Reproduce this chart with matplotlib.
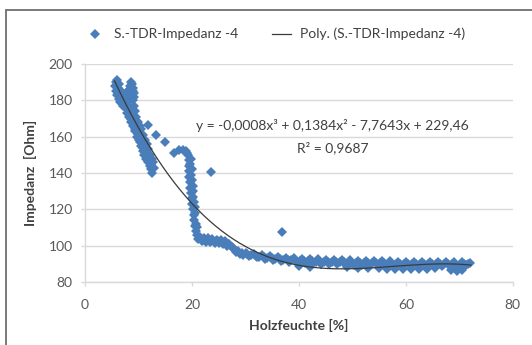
import numpy as np
import matplotlib.pyplot as plt
from matplotlib.patches import Rectangle

plt.rcParams['font.family'] = ['Lato', 'DejaVu Sans']

# --- Messwerte (aus dem Diagramm abgelesen) ---
# obere Gruppe, trockenes Holz
x_top = [5.6, 5.8, 6.0, 5.7, 5.9, 6.2, 6.4, 6.1, 6.6, 6.9, 7.1, 6.8, 7.4, 7.7, 8.0,
         8.2, 8.4, 8.6, 8.8, 9.0, 8.7, 8.9, 9.1, 8.5, 8.3, 7.9, 7.5, 7.2, 9.2, 9.0,
         6.3, 6.6, 7.0, 7.8, 8.1, 8.6]
y_top = [188, 190, 191, 185, 183, 187, 189, 184, 186, 184, 182, 180, 183, 184, 185,
         186, 188, 190, 189, 187, 183, 185, 182, 181, 180, 179, 178, 178, 184, 180,
         181, 179, 177, 181, 182, 185]

# Abfall 180 -> 140 Ohm
x_fall = [7.3, 7.6, 7.9, 8.2, 8.6, 9.0, 9.3, 9.7, 10.0, 10.4, 10.8, 11.1, 11.4, 11.8, 12.1, 12.4, 12.6,
          9.2, 9.4, 9.5, 9.8, 10.2, 10.5, 10.9, 11.2, 11.5, 11.8, 12.2, 12.5, 12.7, 12.8,
          8.4, 8.8, 9.2, 9.6, 10.1, 10.6, 11.0, 11.5, 12.0, 12.4,
          7.8, 8.1, 8.5, 8.9, 9.4, 9.8, 10.3, 10.8, 11.3, 11.7, 12.2]
y_fall = [179, 176, 173, 171, 168, 166, 163, 160, 158, 155, 152, 150, 148, 146, 144, 142, 140,
          177, 174, 171, 168, 166, 164, 161, 158, 156, 153, 150, 148, 146, 143,
          176, 172, 169, 165, 162, 159, 155, 152, 148, 145,
          177.5, 174.5, 170, 167.5, 164, 161.5, 157, 154, 150, 149.5, 146.5]

# vereinzelte Punkte
x_sparse = [11.8, 13.3, 14.9, 16.7, 23.6, 36.8]
y_sparse = [166.4, 161, 157, 151, 140.6, 107.5]

# Plateau und senkrechter Abfall bei ~19 %
x_step = [17.6, 18.3, 18.9, 19.3, 19.4, 19.4, 19.5, 19.5, 19.6, 19.7, 19.8, 19.9, 20.0, 20.1,
          20.3, 20.4, 20.6, 20.8, 21.0, 19.8, 19.9, 20.0, 20.2, 20.3, 20.5, 20.7,
          19.1, 19.7, 19.8, 20.1, 20.2, 20.5, 20.9]
y_step = [152.5, 152.5, 152, 150, 147, 144, 141, 138, 135, 132, 129, 126, 123, 120,
          117, 114, 111, 108, 106, 148, 142, 136, 130, 124, 118, 112,
          151, 145, 139, 133, 127, 121, 110]

# Stufe bei ~103 Ohm
x_shelf = [21.5, 22.2, 23.0, 23.8, 24.6, 25.4, 26.2, 27.0, 21.8, 22.6, 23.4, 24.2, 25.0,
           25.8, 26.6, 27.4, 27.8, 28.3, 28.9, 29.6,
           21.2, 22.0, 22.8, 23.6, 24.4, 25.2, 26.0, 26.8, 27.6, 28.6, 29.3]
y_shelf = [105, 104, 104, 103.5, 103, 103, 102.5, 101, 102.5, 102, 102, 101.5, 101.5,
           101, 100, 99, 98, 96.5, 95.5, 95,
           103.5, 103, 103, 102.5, 102.5, 102, 101.5, 101, 98.5, 97, 96]

# langes Band, nasses Holz
x_wet1 = [30, 31.5, 33, 34.5, 36, 37.5, 39, 40.5, 42, 43.5, 45, 46.5, 48, 49.5, 51, 52.5,
          54, 55.5, 57, 58.5, 60, 61.5, 63, 64.5, 66, 67.5, 69, 70.5, 72]
y_wet1 = [96, 95.3, 94.7, 94.2, 93.8, 93.4, 93.1, 92.8, 92.6, 92.4, 92.2, 92.0, 91.9, 91.8,
          91.7, 91.6, 91.5, 91.4, 91.3, 91.2, 91.2, 91.1, 91.0, 91.0, 90.9, 90.9, 90.8, 90.8, 90.6]
x_wet2 = [30.7, 32.2, 33.7, 35.2, 36.7, 38.2, 39.7, 41.2, 42.7, 44.2, 45.7, 47.2, 48.7, 50.2,
          51.7, 53.2, 54.7, 56.2, 57.7, 59.2, 60.7, 62.2, 63.7, 65.2, 66.7, 68.2, 69.7, 71.2]
y_wet2 = [94.5, 93.6, 92.8, 92.2, 91.7, 91.2, 90.8, 90.5, 90.2, 90.0, 89.8, 89.7, 89.6, 89.5,
          89.4, 89.3, 89.2, 89.1, 89.0, 89.0, 88.9, 88.9, 88.8, 88.8, 88.8, 88.8, 88.3, 89.5]
x_wet3 = [40, 42, 49, 51, 53, 55, 56.5, 58, 59.5, 61, 62.5, 64, 65.5, 68.5, 69.5, 70.5]
y_wet3 = [88.8, 88.3, 88.0, 87.8, 87.6, 87.4, 87.3, 87.2, 87.2, 87.2, 87.3, 87.3, 87.4,
          86.8, 86.0, 86.8]
x_wet4 = [30.3, 31.1, 31.9, 32.6, 33.4, 34.1, 34.9, 35.6, 36.4, 37.1, 37.9, 38.6, 39.4,
          40.1, 40.9, 41.6, 42.4, 43.1, 43.9, 44.6, 45.4, 46.1, 46.9, 47.6, 48.4, 49.1,
          49.9, 50.6, 51.4, 52.1, 52.9, 53.6, 54.4, 55.1, 55.9, 56.6, 57.4, 58.1, 58.9,
          59.6, 60.4, 61.1, 61.9, 62.6, 63.4, 64.1, 64.9, 65.6, 66.4, 67.1, 67.9, 68.6,
          69.4, 70.1, 70.9, 71.6]
y_wet4 = [95.2, 94.8, 94.3, 93.9, 93.6, 93.3, 93.0, 92.7, 92.5, 92.3, 92.1, 91.9, 91.7,
          91.6, 91.5, 91.4, 91.3, 91.2, 91.1, 91.0, 90.9, 90.8, 90.8, 90.7, 90.7, 90.6,
          90.6, 90.5, 90.5, 90.4, 90.4, 90.3, 90.3, 90.2, 90.2, 90.1, 90.1, 90.0, 90.0,
          90.0, 90.0, 89.9, 89.9, 89.9, 89.9, 89.9, 89.8, 89.8, 89.8, 89.8, 89.8, 89.6,
          88.8, 89.2, 89.8, 89.9]

# Trendlinie (Excel, Polynom 3. Grades)
coef = [-0.0008, 0.1384, -7.7643, 229.46]
x_fit_range = (5.5, 72.2)

xs = x_top + x_fall + x_sparse + x_step + x_shelf + x_wet1 + x_wet2 + x_wet3 + x_wet4
ys = y_top + y_fall + y_sparse + y_step + y_shelf + y_wet1 + y_wet2 + y_wet3 + y_wet4

BLUE = '#4a7ebb'
GRID = '#d9d9d9'
TXT = '#404040'
FS = 10

fig = plt.figure(figsize=(5.32, 3.45), dpi=100)
ax = fig.add_axes([0.160, 0.183, 0.804, 0.631])

ax.plot(xs, ys, linestyle='none', marker='D', markersize=5.0, color=BLUE,
        markeredgewidth=0, label='S.-TDR-Impedanz -4', zorder=2)

xf = np.linspace(x_fit_range[0], x_fit_range[1], 300)
ax.plot(xf, np.polyval(coef, xf), color='#3a3a3a', lw=0.9,
        label='Poly. (S.-TDR-Impedanz -4)', zorder=3)

ax.set_xlim(0, 80)
ax.set_ylim(80, 200)
ax.set_xticks([0, 20, 40, 60, 80])
ax.set_yticks([80, 100, 120, 140, 160, 180, 200])
ax.grid(axis='y', color=GRID, lw=1)
ax.set_axisbelow(True)
for s in ['top', 'right']:
    ax.spines[s].set_visible(False)
for s in ['left', 'bottom']:
    ax.spines[s].set_color(GRID)
    ax.spines[s].set_linewidth(1)
ax.tick_params(colors=GRID, length=3, width=1, labelcolor='#595959', labelsize=FS)
ax.tick_params(axis='x', pad=9)
ax.tick_params(axis='y', pad=6)

ax.set_xlabel('Holzfeuchte [%]', fontsize=FS, fontweight='bold', color=TXT, labelpad=6)
ax.set_ylabel('Impedanz  [Ohm]', fontsize=FS, fontweight='bold', color=TXT, labelpad=8)

ax.text(0.578, 0.718, 'y = -0,0008x³ + 0,1384x² - 7,7643x + 229,46', transform=ax.transAxes,
        ha='center', va='center', fontsize=FS, color=TXT)
ax.text(0.578, 0.617, 'R² = 0,9687', transform=ax.transAxes,
        ha='center', va='center', fontsize=FS, color=TXT)

fig.legend(loc='center', bbox_to_anchor=(0.518, 0.901), ncol=2, frameon=False,
           fontsize=FS, handlelength=1.3, columnspacing=2.5, handletextpad=0.7,
           labelcolor=TXT)

fig.patches.append(Rectangle((6 / 532, -0.05), 1.0, 1 - 10 / 345 + 0.05,
                             transform=fig.transFigure, fill=False,
                             edgecolor='#6e6e6e', lw=1.3))

fig.savefig('out.png', dpi=100)
